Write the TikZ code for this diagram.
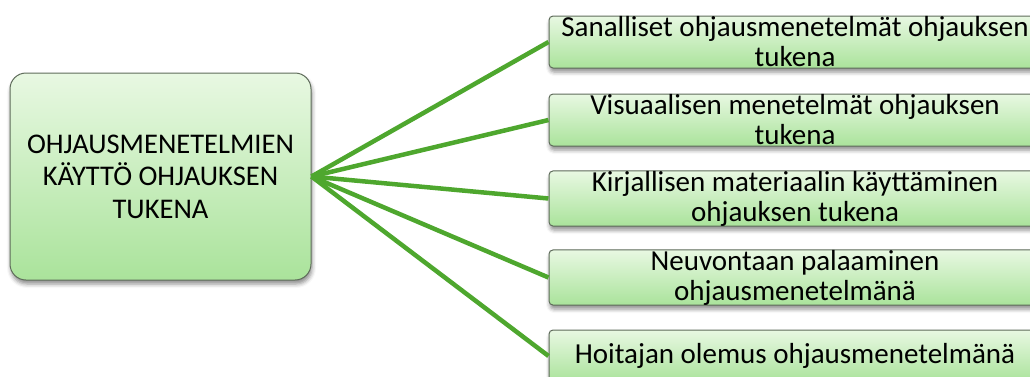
\documentclass[tikz,border=0pt]{standalone}
\usepackage{fontspec}
\setmainfont{Carlito}
\usetikzlibrary{shadows.blur}
\definecolor{boxtop}{HTML}{E8F8E2}
\definecolor{boxbottom}{HTML}{AAE39B}
\definecolor{boxedge}{HTML}{5E6B5A}
\definecolor{linkgreen}{HTML}{4EA72E}
\tikzset{
  hubbox/.style={draw=boxedge, line width=1pt, rounded corners=16pt,
    top color=boxtop, bottom color=boxbottom,
    minimum width=301pt, minimum height=207pt, inner sep=0pt,
    align=center, font=\fontsize{28.5}{32.5}\selectfont,
    blur shadow={shadow xshift=1pt, shadow yshift=-4pt, shadow blur radius=4pt, shadow opacity=45}},
  leafbox/.style={draw=boxedge, line width=1pt, rounded corners=4pt,
    top color=boxtop, bottom color=boxbottom,
    minimum width=492pt, minimum height=52pt, inner sep=0pt,
    align=center, font=\fontsize{29}{30}\selectfont,
    blur shadow={shadow xshift=1pt, shadow yshift=-4pt, shadow blur radius=4pt, shadow opacity=45}},
  link/.style={draw=linkgreen, line width=4.5pt}
}
\begin{document}
\begin{tikzpicture}[x=1pt, y=-1pt]
  \useasboundingbox (0,0) rectangle (1030,376);
  \clip (0,0) rectangle (1030,376);
  % central topic
  \node[hubbox] (hub) at (160.5,176.5)
    {OHJAUSMENETELMIEN\\KÄYTTÖ OHJAUKSEN\\TUKENA};
  % branches
  \node[leafbox] (b1) at (795,42)    {Sanalliset ohjausmenetelmät ohjauksen\\tukena};
  \node[leafbox] (b2) at (795,120)   {Visuaalisen menetelmät ohjauksen\\tukena};
  \node[leafbox] (b3) at (795,198.5) {Kirjallisen materiaalin käyttäminen\\ohjauksen tukena};
  \node[leafbox] (b4) at (795,277.5) {Neuvontaan palaaminen\\ohjausmenetelmänä};
  \node[leafbox] (b5) at (795,356)   {Hoitajan olemus ohjausmenetelmänä};
  % connectors
  \foreach \b in {b1,b2,b3,b4,b5}
    \draw[link] (hub.east) -- (\b.west);
\end{tikzpicture}
\end{document}
